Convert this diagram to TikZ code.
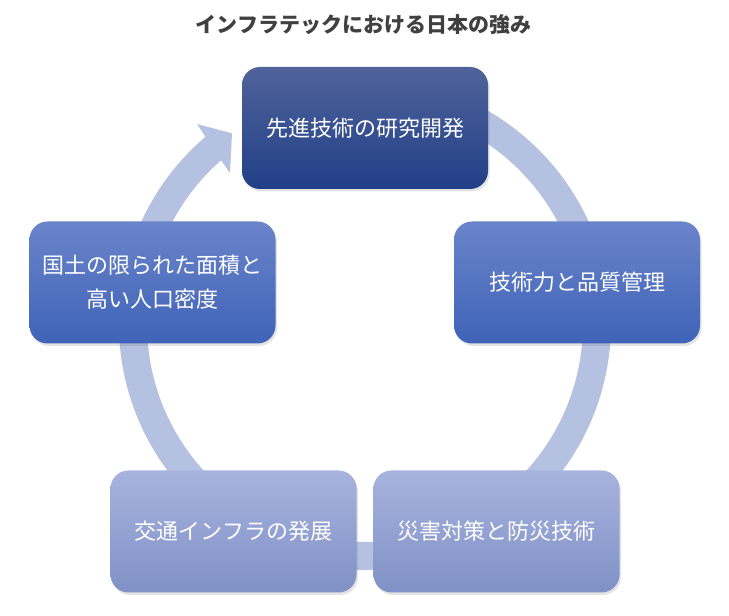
\documentclass[tikz,border=0pt]{standalone}
\usepackage{fontspec}
\setmainfont{Noto Sans CJK JP}
\usetikzlibrary{shadows,calc}
\definecolor{ringc}{RGB}{181,193,225}
\definecolor{topA}{RGB}{80,99,154}
\definecolor{botA}{RGB}{33,63,135}
\definecolor{topB}{RGB}{106,132,201}
\definecolor{botB}{RGB}{63,99,184}
\definecolor{topC}{RGB}{167,179,221}
\definecolor{botC}{RGB}{128,145,199}
\definecolor{titlec}{RGB}{64,64,64}
\begin{document}
\begin{tikzpicture}[x=1pt,y=1pt,
  box/.style={rounded corners=18pt, minimum width=246pt, minimum height=122pt,
    inner sep=0pt, text=white, font=\fontsize{22}{34}\selectfont, align=center,
    drop shadow={shadow xshift=1.5pt, shadow yshift=-2.5pt, opacity=0.22}},
  boxA/.style={box, top color=topA, bottom color=botA},
  boxB/.style={box, top color=topB, bottom color=botB},
  boxC/.style={box, top color=topC, bottom color=botC},
  ringstyle/.style={fill=ringc}
]
\useasboundingbox (0,0) rectangle (729,616);
\coordinate (C) at (365,292);
% circular arrow
\coordinate (ob) at ($(C)+(130:261)$);
\coordinate (tip) at ($(C)+(124.9:232.5)$);
\coordinate (ib) at ($(C)+(131.8:202.5)$);
\fill[ringstyle] ($(C)+(80:246)$) arc[start angle=80, end angle=-229.54, radius=246]
  -- (ob) -- (tip) -- (ib) -- ($(C)+(131.32:218)$)
  arc[start angle=-228.68, end angle=80, radius=218] -- cycle;
% title
\node[font=\fontsize{21}{25}\selectfont\bfseries, text=titlec] (title) at (363.5,591) {インフラテックにおける日本の強み};
% boxes
\node[boxA] (n1) at (365,488) {先進技術の研究開発};
\node[boxB] (n2) at (577,333.5) {技術力と品質管理};
\node[boxC] (n3) at (496.5,84.5) {災害対策と防災技術};
\node[boxC] (n4) at (233.5,84.5) {交通インフラの発展};
\node[boxB] (n5) at (152.5,333.5) {国土の限られた面積と\\高い人口密度};
\end{tikzpicture}
\end{document}
